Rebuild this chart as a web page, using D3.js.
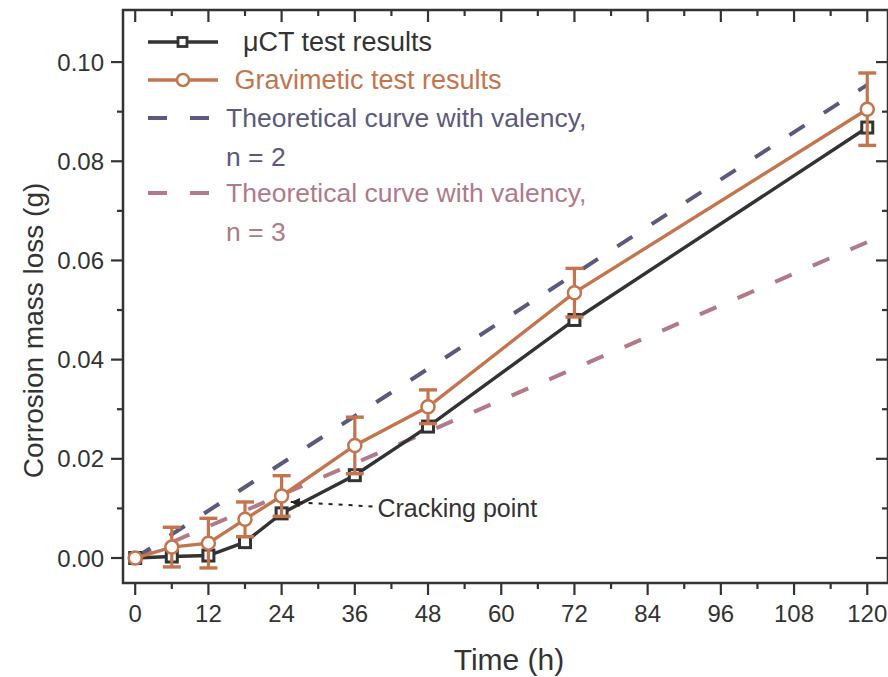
<!DOCTYPE html>
<html>
<head>
<meta charset="utf-8">
<script src="https://cdn.jsdelivr.net/npm/d3@7/dist/d3.min.js"></script>
<style>
  html, body { margin: 0; padding: 0; background: #ffffff; }
  svg { display: block; }
  text { font-family: "Liberation Sans", Arial, Helvetica, sans-serif; }
</style>
</head>
<body>
<svg id="chart" width="888" height="677"></svg>
<script>
// ---- data ----
const hours = [0, 6, 12, 18, 24, 36, 48, 72, 120];
const muCT = [0.0000, 0.0003, 0.0005, 0.0032, 0.0090, 0.0167, 0.0265, 0.0480, 0.0868];
const gravimetric = [0.0000, 0.0022, 0.0030, 0.0078, 0.0125, 0.0227, 0.0305, 0.0535, 0.0905];
const gravError = [0, 0.0040, 0.0050, 0.0035, 0.0041, 0.0057, 0.0034, 0.0049, 0.0073];
const theoryHours = [0, 120];
const theoryN2 = [0, 0.0954];
const theoryN3 = [0, 0.0637];
const xTicks = [0, 12, 24, 36, 48, 60, 72, 84, 96, 108, 120];
const xMinorTicks = [6, 18, 30, 42, 54, 66, 78, 90, 102, 114];
const yTicks = [0.00, 0.02, 0.04, 0.06, 0.08, 0.10];
const yMinorTicks = [0.01, 0.03, 0.05, 0.07, 0.09];
const legendLabels = ["\u00a0\u00a0\u03bcCT test results", "\u00a0Gravimetic test results", "Theoretical curve with valency,", "Theoretical curve with valency,"];
const legendSubLabels = [null, null, "n = 2", "n = 3"];
const annotationText = "Cracking point";

// ---- styles ----
const C_BLACK = "#333333";
const C_ORANGE = "#c4754d";
const C_NAVY = "#5c5a7c";
const C_PINK = "#b07a88";

const svg = d3.select("#chart");
const L = 123, R = 888, T = 10, B = 583;

const x = d3.scaleLinear().domain([-2, 123.4]).range([L, R]);
const y = d3.scaleLinear().domain([-0.00504, 0.1105]).range([B, T]);

const g = svg.append("g");

// theoretical dashed lines
const thLine = d3.line().x(d => x(d[0])).y(d => y(d[1]));
g.append("path")
  .datum(theoryHours.map((h, i) => [h, theoryN3[i]]))
  .attr("d", thLine).attr("fill", "none")
  .attr("stroke", C_PINK).attr("stroke-width", 4)
  .attr("stroke-dasharray", "18,23");
g.append("path")
  .datum(theoryHours.map((h, i) => [h, theoryN2[i]]))
  .attr("d", thLine).attr("fill", "none")
  .attr("stroke", C_NAVY).attr("stroke-width", 4)
  .attr("stroke-dasharray", "18,23");

// muCT line
const ctData = hours.map((h, i) => [h, muCT[i]]);
g.append("path").datum(ctData).attr("d", thLine)
  .attr("fill", "none").attr("stroke", C_BLACK).attr("stroke-width", 3.4);
g.selectAll("rect.ct").data(ctData).enter().append("rect")
  .attr("class", "ct")
  .attr("x", d => x(d[0]) - 5.5).attr("y", d => y(d[1]) - 5.5)
  .attr("width", 11).attr("height", 11)
  .attr("fill", "#ffffff").attr("stroke", C_BLACK).attr("stroke-width", 3);

// gravimetric line
const grData = hours.map((h, i) => [h, gravimetric[i], gravError[i]]);
g.append("path").datum(grData).attr("d", thLine)
  .attr("fill", "none").attr("stroke", C_ORANGE).attr("stroke-width", 3.4);
// error bars
const eb = g.selectAll("g.eb").data(grData.filter(d => d[2] > 0)).enter().append("g");
eb.append("line")
  .attr("x1", d => x(d[0])).attr("x2", d => x(d[0]))
  .attr("y1", d => y(d[1] - d[2])).attr("y2", d => y(d[1] + d[2]))
  .attr("stroke", C_ORANGE).attr("stroke-width", 3.2);
eb.append("line")
  .attr("x1", d => x(d[0]) - 9).attr("x2", d => x(d[0]) + 9)
  .attr("y1", d => y(d[1] + d[2])).attr("y2", d => y(d[1] + d[2]))
  .attr("stroke", C_ORANGE).attr("stroke-width", 3.4);
eb.append("line")
  .attr("x1", d => x(d[0]) - 9).attr("x2", d => x(d[0]) + 9)
  .attr("y1", d => y(d[1] - d[2])).attr("y2", d => y(d[1] - d[2]))
  .attr("stroke", C_ORANGE).attr("stroke-width", 3.4);
g.selectAll("circle.gr").data(grData).enter().append("circle")
  .attr("cx", d => x(d[0])).attr("cy", d => y(d[1])).attr("r", 6.5)
  .attr("fill", "#ffffff").attr("stroke", C_ORANGE).attr("stroke-width", 2.5);

// annotation
const defs = svg.append("defs");
defs.append("marker").attr("id", "arrow")
  .attr("viewBox", "0 0 10 10").attr("refX", 10).attr("refY", 5)
  .attr("markerWidth", 17).attr("markerHeight", 9).attr("markerUnits", "userSpaceOnUse")
  .attr("orient", "auto")
  .append("path").attr("d", "M0,0 L10,5 L0,10 Z").attr("fill", "#222");
g.append("line")
  .attr("x1", x(38.9)).attr("y1", y(0.0104))
  .attr("x2", x(25.5)).attr("y2", y(0.0113))
  .attr("stroke", "#222").attr("stroke-width", 2)
  .attr("stroke-dasharray", "4,6")
  .attr("marker-end", "url(#arrow)");
g.append("text").attr("x", x(39.7)).attr("y", y(0.0100))
  .attr("dominant-baseline", "central")
  .attr("font-size", 25).attr("fill", "#333")
  .text(annotationText);

// ---- frame & axes ----
const frame = svg.append("g").attr("stroke", C_BLACK).attr("stroke-width", 2.5).attr("fill", "none");
frame.append("rect").attr("x", L).attr("y", T).attr("width", R - L).attr("height", B - T);

const ax = svg.append("g").attr("stroke", C_BLACK).attr("stroke-width", 2.2);
xTicks.forEach(t => {
  ax.append("line").attr("x1", x(t)).attr("x2", x(t)).attr("y1", B).attr("y2", B + 12);
  ax.append("line").attr("x1", x(t)).attr("x2", x(t)).attr("y1", T).attr("y2", T + 12);
});
xMinorTicks.forEach(t => {
  ax.append("line").attr("x1", x(t)).attr("x2", x(t)).attr("y1", B).attr("y2", B + 6);
  ax.append("line").attr("x1", x(t)).attr("x2", x(t)).attr("y1", T).attr("y2", T + 6);
});
yTicks.forEach(t => {
  ax.append("line").attr("x1", L - 12).attr("x2", L).attr("y1", y(t)).attr("y2", y(t));
  ax.append("line").attr("x1", R - 12).attr("x2", R).attr("y1", y(t)).attr("y2", y(t));
});
yMinorTicks.forEach(t => {
  ax.append("line").attr("x1", L - 6).attr("x2", L).attr("y1", y(t)).attr("y2", y(t));
  ax.append("line").attr("x1", R - 6).attr("x2", R).attr("y1", y(t)).attr("y2", y(t));
});

const lbl = svg.append("g").attr("fill", C_BLACK);
xTicks.forEach(t => {
  lbl.append("text").attr("x", x(t)).attr("y", 622).attr("text-anchor", "middle")
    .attr("font-size", 24).text(t);
});
yTicks.forEach(t => {
  lbl.append("text").attr("x", 104).attr("y", y(t)).attr("text-anchor", "end")
    .attr("dominant-baseline", "central").attr("font-size", 24).text(d3.format(".2f")(t));
});
lbl.append("text").attr("x", 509).attr("y", 670).attr("text-anchor", "middle")
  .attr("font-size", 30).text("Time (h)");
lbl.append("text").attr("transform", `translate(43, ${(T + B) / 2 + 34}) rotate(-90)`)
  .attr("text-anchor", "middle").attr("font-size", 28).text("Corrosion mass loss (g)");

// ---- legend ----
const lg = svg.append("g");
const rowY = [42, 80, 118, 193];
const colors = [C_BLACK, C_ORANGE, C_NAVY, C_PINK];
const textX = [228, 227, 226, 226];
lg.append("line").attr("x1", 148).attr("x2", 218).attr("y1", rowY[0]).attr("y2", rowY[0])
  .attr("stroke", C_BLACK).attr("stroke-width", 3.4);
lg.append("rect").attr("x", 178).attr("y", rowY[0] - 4.5).attr("width", 9).attr("height", 9)
  .attr("fill", "#fff").attr("stroke", C_BLACK).attr("stroke-width", 2.8);
lg.append("line").attr("x1", 148).attr("x2", 218).attr("y1", rowY[1]).attr("y2", rowY[1])
  .attr("stroke", C_ORANGE).attr("stroke-width", 3.4);
lg.append("circle").attr("cx", 183).attr("cy", rowY[1]).attr("r", 6)
  .attr("fill", "#fff").attr("stroke", C_ORANGE).attr("stroke-width", 2.5);
[2, 3].forEach(i => {
  lg.append("line").attr("x1", 148).attr("x2", 209).attr("y1", rowY[i]).attr("y2", rowY[i])
    .attr("stroke", colors[i]).attr("stroke-width", 4).attr("stroke-dasharray", "19,23");
});
legendLabels.forEach((s, i) => {
  const fs = i < 2 ? 27 : 26.5;
  lg.append("text").attr("x", textX[i]).attr("y", rowY[i]).attr("dominant-baseline", "central")
    .attr("font-size", fs).attr("fill", colors[i]).text(s);
  if (legendSubLabels[i]) {
    lg.append("text").attr("x", textX[i]).attr("y", rowY[i] + 39).attr("dominant-baseline", "central")
      .attr("font-size", fs).attr("fill", colors[i]).text(legendSubLabels[i]);
  }
});
</script>
</body>
</html>
